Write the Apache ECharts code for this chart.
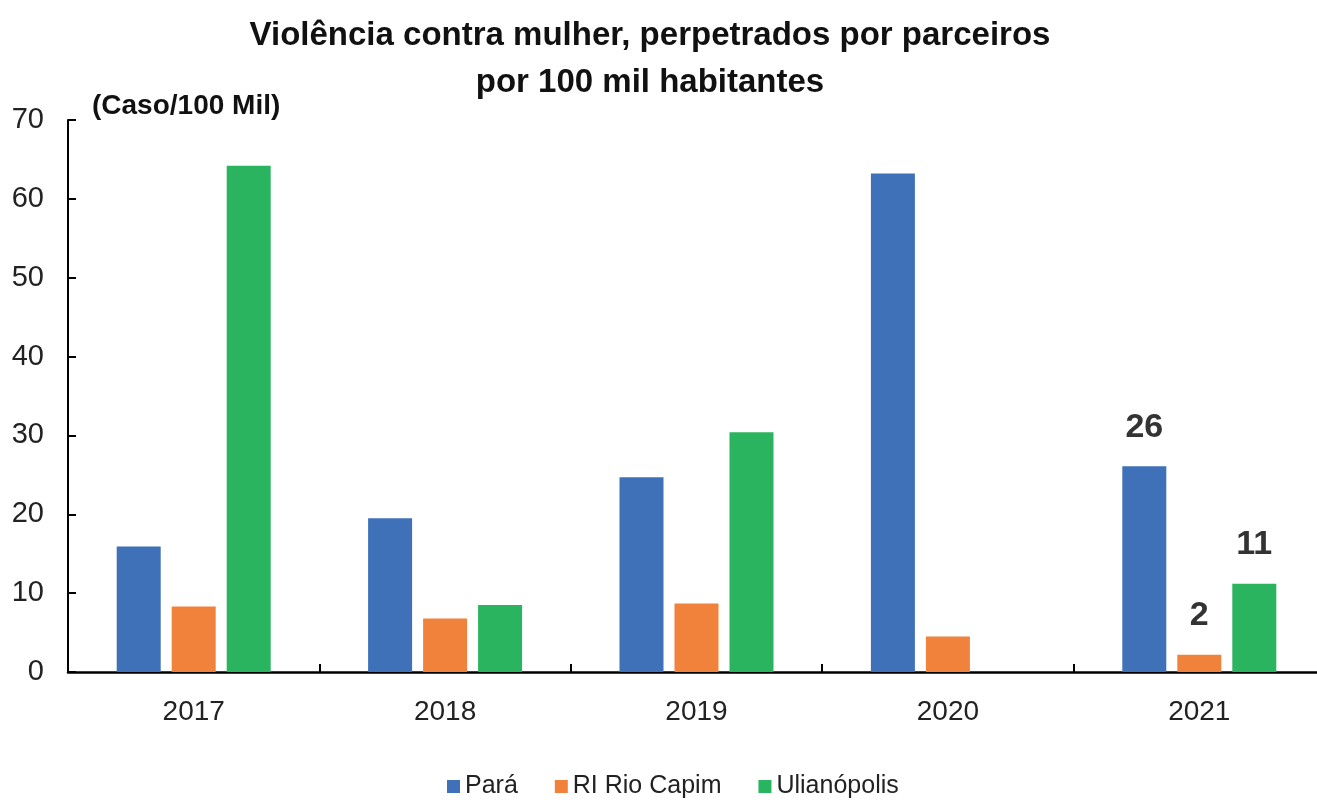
<!DOCTYPE html>
<html>
<head>
<meta charset="utf-8">
<script src="https://cdn.jsdelivr.net/npm/echarts@6/dist/echarts.min.js"></script>
<style>
  html, body { margin: 0; padding: 0; background: #fff; overflow: hidden; }
  #chart { width: 1330px; height: 804px; }
</style>
</head>
<body>
<div id="chart"></div>
<script>
// dados
var years = ['2017', '2018', '2019', '2020', '2021'];
var para = [15.9, 19.5, 24.7, 63.2, 26.1];
var riRioCapim = [8.3, 6.8, 8.7, 4.5, 2.2];
var ulianopolis = [64.2, 8.5, 30.4, null, 11.2];
var yTicks = [0, 10, 20, 30, 40, 50, 60, 70];

var FONT = '"Liberation Sans", Arial, sans-serif';

// so o ultimo ano leva rotulo
function withLabels(arr){
    return arr.map(function(v, i){
        if (i === arr.length - 1 && v != null) {
            return { value: v, label: { show: true } };
        }
        return v;
    });
}

var barLabel = {
    show: false,
    position: 'top',
    distance: 22,
    fontFamily: FONT,
    fontWeight: 'bold',
    fontSize: 34,
    color: '#333',
    formatter: function(p){ return Math.round(p.value); }
};

var myChart = echarts.init(document.getElementById('chart'));
var option = {
    backgroundColor: '#fff',
    animation: false,
    title: [
        {
            text: 'Violência contra mulher, perpetrados por parceiros\npor 100 mil habitantes',
            left: 645,
            textAlign: 'center',
            top: 7,
            textStyle: {
                fontFamily: FONT,
                fontWeight: 'bold',
                fontSize: 33,
                lineHeight: 47,
                color: '#111'
            }
        },
        {
            text: '(Caso/100 Mil)',
            left: 87,
            top: 87,
            textStyle: {
                fontFamily: FONT,
                fontWeight: 'bold',
                fontSize: 28,
                color: '#111'
            }
        }
    ],
    legend: {
        bottom: 0,
        left: 442,
        itemWidth: 13,
        itemHeight: 13,
        itemGap: 37,
        icon: 'rect',
        textStyle: { fontFamily: FONT, fontSize: 25, color: '#222' },
        data: ['Pará', 'RI Rio Capim', 'Ulianópolis']
    },
    grid: {
        left: 68,
        top: 120,
        right: 5,
        bottom: 132,
        containLabel: false
    },
    xAxis: {
        type: 'category',
        data: years,
        axisLine: { lineStyle: { color: '#000', width: 2.5 } },
        axisTick: { show: true, inside: true, length: 8, lineStyle: { color: '#000', width: 2 } },
        axisLabel: { margin: 26, fontFamily: FONT, fontSize: 28, color: '#222' }
    },
    yAxis: {
        type: 'value',
        min: 0,
        max: 70,
        interval: 10,
        axisLine: { show: true, lineStyle: { color: '#000', width: 2 } },
        axisTick: { show: true, inside: true, length: 8, lineStyle: { color: '#000', width: 2 } },
        splitLine: { show: false },
        axisLabel: {
            margin: 24,
            fontFamily: FONT,
            fontSize: 29,
            color: '#222',
            formatter: function(v){ return yTicks.indexOf(v) >= 0 ? v : ''; }
        }
    },
    series: [
        {
            name: 'Pará',
            type: 'bar',
            barWidth: 44,
            barGap: '25%',
            itemStyle: { color: '#3F71B8' },
            label: barLabel,
            data: withLabels(para)
        },
        {
            name: 'RI Rio Capim',
            type: 'bar',
            barWidth: 44,
            barGap: '25%',
            itemStyle: { color: '#F0823C' },
            label: barLabel,
            data: withLabels(riRioCapim)
        },
        {
            name: 'Ulianópolis',
            type: 'bar',
            barWidth: 44,
            barGap: '25%',
            itemStyle: { color: '#2BB45F' },
            label: barLabel,
            data: withLabels(ulianopolis)
        }
    ]
};
myChart.setOption(option);
</script>
</body>
</html>
